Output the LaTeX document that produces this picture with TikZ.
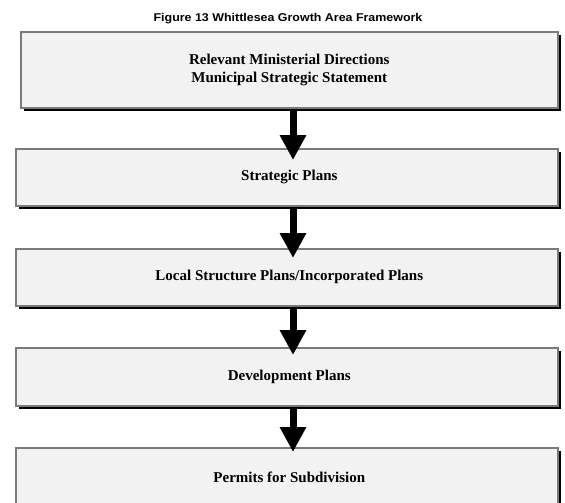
\documentclass[tikz,border=0pt]{standalone}
\usepackage{fontspec}
\setmainfont{Liberation Serif}
\newfontfamily\titlefont[FakeStretch=1.1]{Liberation Sans}
\usetikzlibrary{arrows.meta}
\definecolor{boxfill}{HTML}{F2F2F2}
\definecolor{boxedge}{HTML}{7A7A7A}
\begin{document}
\begin{tikzpicture}[x=1pt,y=-1pt,
  stagebox/.style={draw=boxedge, line width=1.6pt, fill=boxfill,
    anchor=north west, inner sep=0pt, align=center,
    font=\fontsize{15}{18}\selectfont\bfseries},
  flowarrow/.style={line width=7pt, -{Triangle[width=25pt,length=25pt]}}]
\useasboundingbox (0,0) rectangle (565,503);
\clip (0,0) rectangle (565,503);

% drop shadows behind the boxes
\foreach \xa/\ya/\xb/\yb in {20/31/557/107, 15/148/557/205, 15/248/557/305,
                              15/347/557/405, 15/447/557/507}
  \fill[black] (\xa+4,\ya+4) rectangle (\xb+4,\yb+4);

\node[font=\titlefont\fontsize{11.3}{13}\selectfont\bfseries] (title) at (288,18.5)
  {Figure 13 Whittlesea Growth Area Framework};

\node[stagebox, minimum width=537pt, minimum height=76pt] (b1) at (20,31)
  {Relevant Ministerial Directions\\Municipal Strategic Statement};
\node[stagebox, minimum width=542pt, minimum height=57pt] (b2) at (15,148)
  {\hspace*{5pt}Strategic Plans};
\node[stagebox, minimum width=542pt, minimum height=57pt] (b3) at (15,248)
  {\hspace*{5pt}Local Structure Plans/Incorporated Plans};
\node[stagebox, minimum width=542pt, minimum height=58pt] (b4) at (15,347)
  {\hspace*{5pt}Development Plans};
\node[stagebox, minimum width=542pt, minimum height=60pt] (b5) at (15,447)
  {\hspace*{5pt}Permits for Subdivision};

\coordinate (ax) at (293,0);
\draw[flowarrow] (b1.south -| ax) -- ([yshift=-12pt]b2.north -| ax);
\draw[flowarrow] (b2.south -| ax) -- ([yshift=-10pt]b3.north -| ax);
\draw[flowarrow] (b3.south -| ax) -- ([yshift=-8pt]b4.north -| ax);
\draw[flowarrow] (b4.south -| ax) -- ([yshift=-5pt]b5.north -| ax);
\end{tikzpicture}
\end{document}
